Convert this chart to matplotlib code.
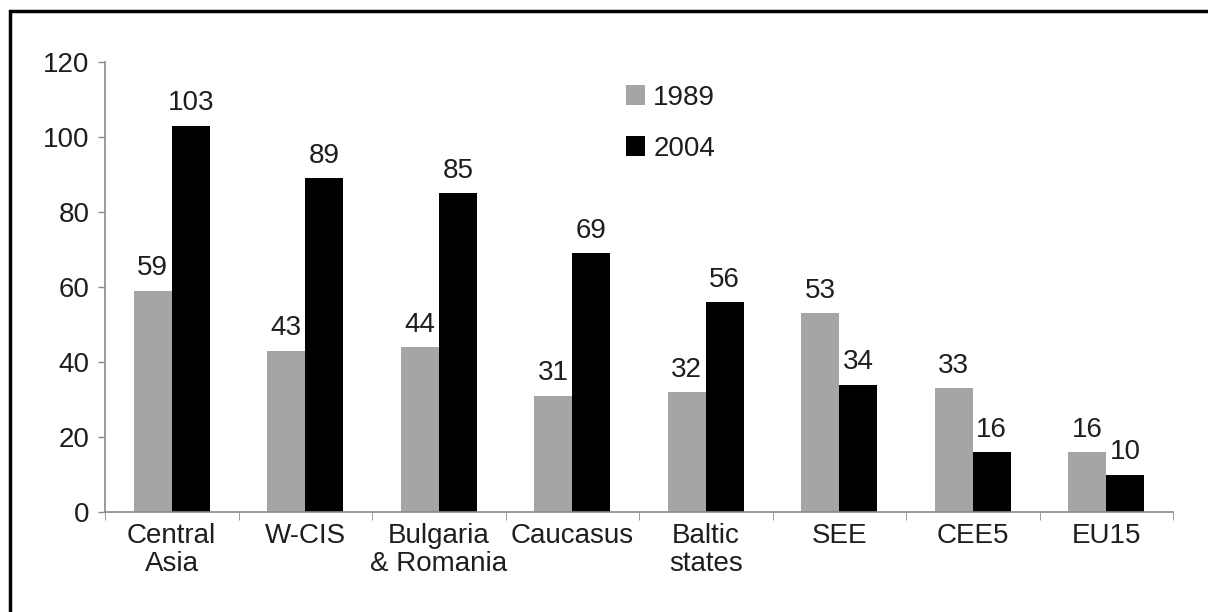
import matplotlib
matplotlib.use("Agg")
import numpy as np
import matplotlib.pyplot as plt
from matplotlib.patches import Rectangle

# Data ----------------------------------------------------

regions = ['Central\nAsia', 'W-CIS', 'Bulgaria\n& Romania', 'Caucasus',
           'Baltic\nstates', 'SEE', 'CEE5', 'EU15']
val_1989 = [59, 43, 44, 31, 32, 53, 33, 16]
val_2004 = [103, 89, 85, 69, 56, 34, 16, 10]
yticks = [0, 20, 40, 60, 80, 100, 120]

# Style ---------------------------------------------------

plt.rcParams['font.family'] = ['Liberation Sans', 'DejaVu Sans']
txt = '#1e1e1e'
axc = '#8a8a8a'
gray = '#a5a5a5'
fs = 20

# Plot ----------------------------------------------------

fig = plt.figure(figsize=(12.08, 6.12), dpi=100)
ax = fig.add_axes([105 / 1208, 1 - 512 / 612, 1068 / 1208, 450 / 612])

x = np.arange(len(regions))
w = 0.285
ax.bar(x - w / 2, val_1989, w, color=gray, label='1989')
ax.bar(x + w / 2, val_2004, w, color='black', label='2004')

for xi, v in zip(x, val_1989):
    ax.text(xi - w / 2, v + 2.5, str(v), ha='center', va='bottom', fontsize=fs, color=txt)
for xi, v in zip(x, val_2004):
    ax.text(xi + w / 2, v + 2.5, str(v), ha='center', va='bottom', fontsize=fs, color=txt)

ax.set_xlim(-0.5, len(regions) - 0.5)
ax.set_ylim(0, 120)
ax.set_yticks(yticks)
ax.set_yticklabels([str(t) for t in yticks], fontsize=fs, color=txt)
ax.set_xticks(x)
ax.set_xticklabels(regions, fontsize=fs, color=txt, linespacing=1.1)
ax.tick_params(axis='x', length=0, pad=8)
ax.set_xticks(np.arange(len(regions) + 1) - 0.5, minor=True)
ax.tick_params(axis='x', which='minor', length=6, color=axc, direction='out')
ax.tick_params(axis='y', length=5, color=axc, width=1, pad=6)

for s in ['top', 'right']:
    ax.spines[s].set_visible(False)
for s in ['left', 'bottom']:
    ax.spines[s].set_color(axc)
    ax.spines[s].set_linewidth(1.2)

ax.legend(frameon=False, loc='upper left', bbox_to_anchor=(0.464, 1.005),
          fontsize=fs, handlelength=0.7, handleheight=0.7,
          handletextpad=0.3, labelspacing=0.9, labelcolor=txt)

# outer frame
fig.patches.append(Rectangle((10 / 1208, -0.1), 1.2, 1 - 11 / 612 + 0.1,
                             transform=fig.transFigure, fill=False,
                             edgecolor='black', linewidth=2.5))

fig.savefig('out.png', dpi=100)
